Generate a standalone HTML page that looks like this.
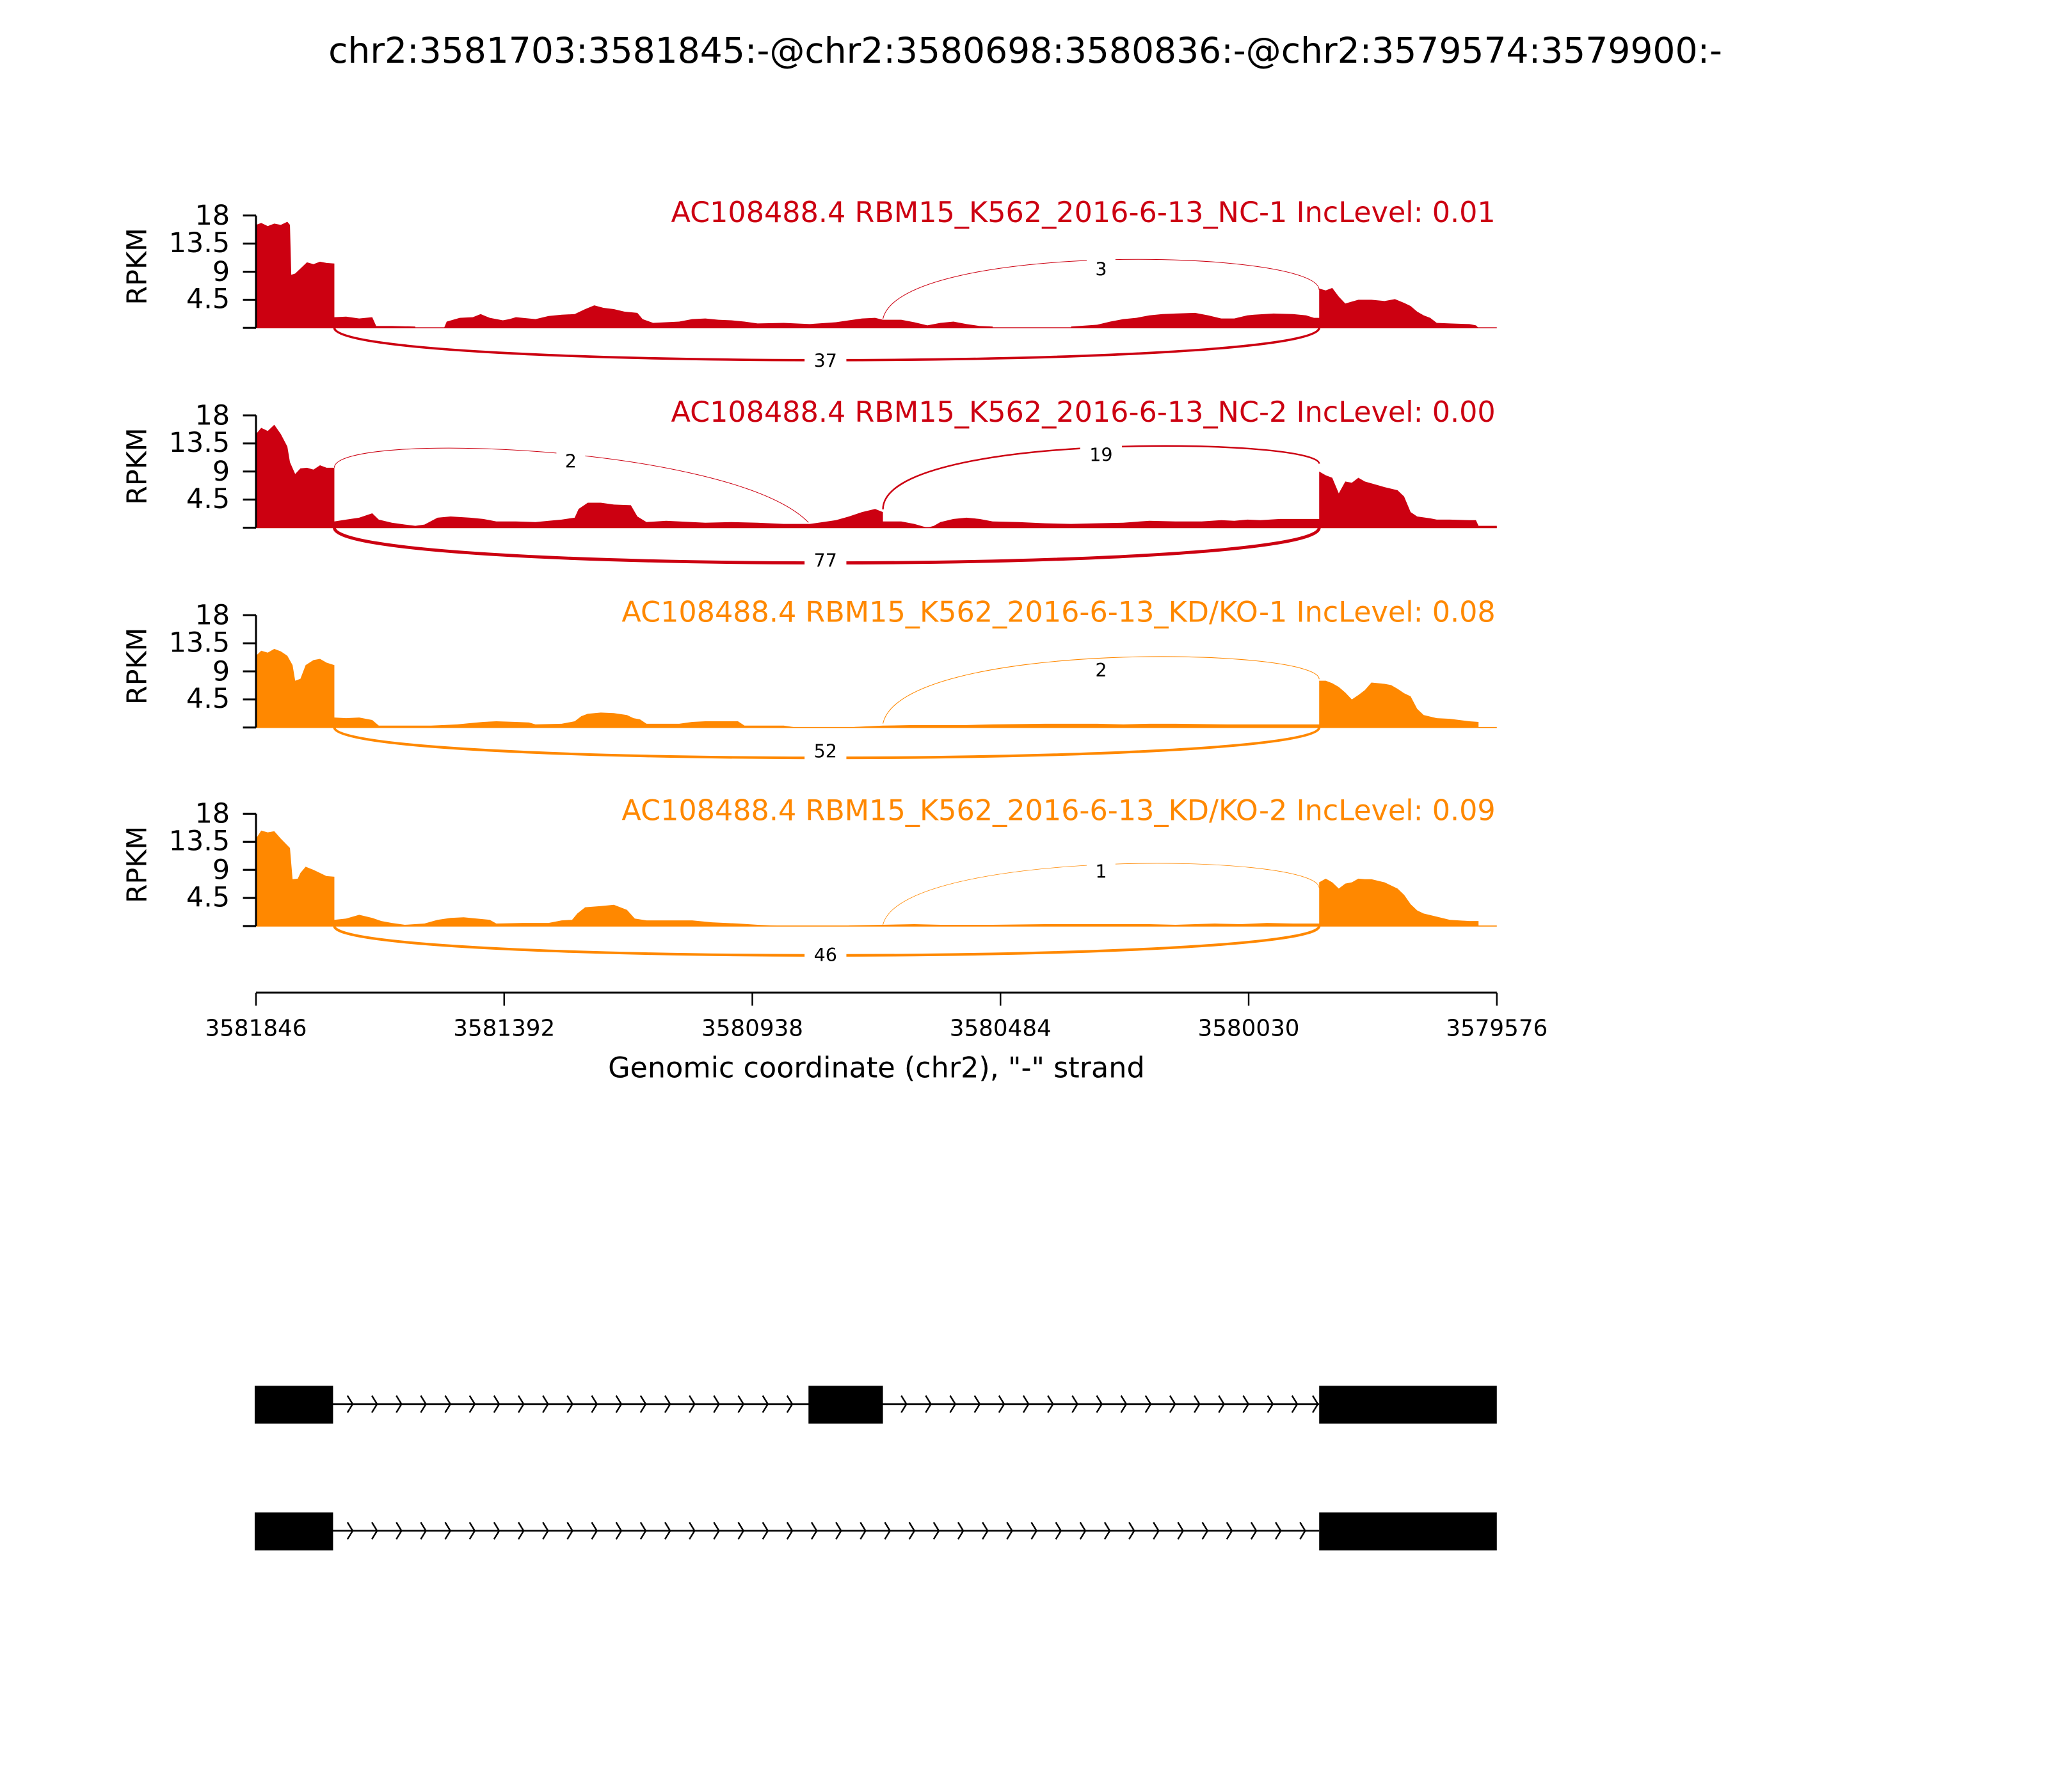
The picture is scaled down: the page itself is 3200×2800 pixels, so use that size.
<!DOCTYPE html>
<html><head><meta charset="utf-8"><style>
html,body{margin:0;padding:0;background:#fff;}
svg{display:block;}
text{font-family:"DejaVu Sans","Liberation Sans",sans-serif;}
</style></head><body>
<svg width="3200" height="2800" viewBox="0 0 1568 1372" preserveAspectRatio="none" xmlns="http://www.w3.org/2000/svg">
<rect width="1568" height="1372" fill="#fff"/>
<text x="785" y="48" font-size="27" text-anchor="middle" fill="#000">chr2:3581703:3581845:-@chr2:3580698:3580836:-@chr2:3579574:3579900:-</text>

<!-- Panel 1 -->
<g>
<g transform="translate(0,251) scale(1,-4.778)">
<polygon fill="#cc0011" points="196,0 196,16.5 200,16.8 205,16.3 210,16.7 215,16.5 220,17 222,16.5 223,8.5 226,8.7 230,9.5 235,10.5 240,10.2 245,10.6 250,10.4 256,10.3 256,1.7 265,1.8 275,1.5 285,1.7 288,0.3 300,0.3 318,0.2 318,0 340,0 342,1 352,1.6 362,1.7 368,2.2 375,1.6 385,1.2 390,1.4 395,1.7 410,1.4 420,1.9 430,2.1 440,2.2 448,3 455,3.6 462,3.2 470,3.0 478,2.6 488,2.4 492,1.4 500,0.8 510,0.9 520,1.0 530,1.4 540,1.5 550,1.3 560,1.2 570,1.0 580,0.7 600,0.8 620,0.6 640,0.9 650,1.2 660,1.5 670,1.6 676,1.3 690,1.3 700,0.9 710,0.4 720,0.8 730,1.0 740,0.6 750,0.3 760,0.2 760,0 820,0 820,0.2 840,0.5 850,1.0 860,1.4 870,1.6 880,2.0 890,2.2 900,2.3 915,2.4 925,2.0 935,1.5 945,1.5 955,2.0 960,2.1 975,2.3 990,2.2 1000,2.0 1006,1.6 1010,1.6 1010,6.3 1015,6.0 1020,6.4 1025,5.0 1030,3.9 1035,4.2 1040,4.5 1050,4.5 1060,4.3 1068,4.6 1075,4.0 1080,3.5 1085,2.6 1090,2.0 1095,1.6 1100,0.8 1110,0.7 1125,0.6 1130,0.4 1132,0"/>
</g>
<line x1="196" y1="251" x2="1146" y2="251" stroke="#cc0011" stroke-width="0.8"/>
<path d="M676,244 C690,185 1010,190 1010,222" fill="none" stroke="#cc0011" stroke-width="0.5"/>
<path d="M256,251 C256,284 1010,284 1010,251" fill="none" stroke="#cc0011" stroke-width="1.8"/>
<rect x="832" y="198" width="22" height="17" fill="#fff"/><text x="843" y="211" font-size="14" text-anchor="middle">3</text>
<rect x="616" y="268" width="32" height="17" fill="#fff"/><text x="632" y="281" font-size="14" text-anchor="middle">37</text>
<text x="1145" y="170" font-size="21.8" text-anchor="end" fill="#cc0011">AC108488.4 RBM15_K562_2016-6-13_NC-1 IncLevel: 0.01</text>
<line x1="196" y1="165" x2="196" y2="251" stroke="#000" stroke-width="1.5"/>
<g stroke="#000" stroke-width="1.5"><line x1="186" y1="165" x2="196" y2="165"/><line x1="186" y1="186.5" x2="196" y2="186.5"/><line x1="186" y1="208" x2="196" y2="208"/><line x1="186" y1="229.5" x2="196" y2="229.5"/><line x1="186" y1="251" x2="196" y2="251"/></g>
<g font-size="21" text-anchor="end"><text x="176" y="172">18</text><text x="176" y="193">13.5</text><text x="176" y="215">9</text><text x="176" y="236">4.5</text></g>
<text transform="translate(112,204) rotate(-90)" font-size="21" text-anchor="middle">RPKM</text>
</g>

<!-- Panel 2 -->
<g>
<g transform="translate(0,404) scale(1,-4.778)">
<polygon fill="#cc0011" points="196,0 196,15 200,16 205,15.5 210,16.5 215,15 220,13 222,10.5 226,8.6 230,9.5 235,9.6 240,9.3 245,10 250,9.6 256,9.6 256,1 265,1.3 275,1.6 285,2.3 290,1.3 300,0.8 310,0.5 318,0.3 325,0.5 335,1.6 345,1.8 360,1.6 370,1.4 380,1.0 395,1.0 410,0.9 420,1.1 430,1.3 440,1.6 443,3 450,4.0 460,4.0 470,3.7 483,3.6 488,1.8 495,0.9 510,1.1 520,1.0 540,0.8 560,0.9 580,0.8 600,0.6 620,0.6 630,0.9 640,1.2 650,1.8 660,2.5 670,3.0 676,2.5 676,1.0 690,1.0 700,0.6 710,0 715,0.3 720,0.9 730,1.4 740,1.6 750,1.4 760,1.0 780,0.9 800,0.7 820,0.6 840,0.7 860,0.8 880,1.1 900,1.0 920,1.0 935,1.2 945,1.1 955,1.3 965,1.2 980,1.4 1000,1.4 1010,1.4 1010,9.0 1015,8.4 1020,8.0 1025,5.5 1030,7.4 1035,7.2 1040,8.0 1045,7.4 1050,7.1 1060,6.5 1070,6.0 1075,5.0 1080,2.5 1085,1.8 1095,1.5 1100,1.3 1110,1.3 1125,1.2 1130,1.2 1132,0.3 1146,0.3 1146,0"/>
</g>
<line x1="196" y1="404" x2="1146" y2="404" stroke="#cc0011" stroke-width="0.8"/>
<path d="M256,358 C256,330 560,340 619,400" fill="none" stroke="#cc0011" stroke-width="0.5"/>
<path d="M676,390 C676,330 1010,335 1010,355" fill="none" stroke="#cc0011" stroke-width="1.2"/>
<path d="M256,404 C256,440 1010,440 1010,404" fill="none" stroke="#cc0011" stroke-width="2.4"/>
<rect x="426" y="345" width="22" height="17" fill="#fff"/><text x="437" y="358" font-size="14" text-anchor="middle">2</text>
<rect x="827" y="340" width="32" height="17" fill="#fff"/><text x="843" y="353" font-size="14" text-anchor="middle">19</text>
<rect x="616" y="421" width="32" height="17" fill="#fff"/><text x="632" y="434" font-size="14" text-anchor="middle">77</text>
<text x="1145" y="323" font-size="21.8" text-anchor="end" fill="#cc0011">AC108488.4 RBM15_K562_2016-6-13_NC-2 IncLevel: 0.00</text>
<line x1="196" y1="318" x2="196" y2="404" stroke="#000" stroke-width="1.5"/>
<g stroke="#000" stroke-width="1.5"><line x1="186" y1="318" x2="196" y2="318"/><line x1="186" y1="339.5" x2="196" y2="339.5"/><line x1="186" y1="361" x2="196" y2="361"/><line x1="186" y1="382.5" x2="196" y2="382.5"/><line x1="186" y1="404" x2="196" y2="404"/></g>
<g font-size="21" text-anchor="end"><text x="176" y="325">18</text><text x="176" y="346">13.5</text><text x="176" y="368">9</text><text x="176" y="389">4.5</text></g>
<text transform="translate(112,357) rotate(-90)" font-size="21" text-anchor="middle">RPKM</text>
</g>

<!-- Panel 3 -->
<g>
<g transform="translate(0,557) scale(1,-4.778)">
<polygon fill="#ff8800" points="196,0 196,11.5 200,12.3 205,12.0 210,12.6 215,12.2 220,11.5 224,10 226,7.5 230,7.8 234,10 240,10.8 245,11.0 250,10.4 256,10.0 256,1.6 265,1.5 275,1.6 285,1.2 290,0.3 300,0.3 330,0.3 340,0.4 350,0.5 360,0.7 370,0.9 380,1.0 395,0.9 405,0.8 410,0.5 430,0.6 440,1.0 445,1.8 450,2.2 460,2.4 470,2.3 480,2.0 485,1.5 490,1.3 495,0.6 520,0.6 530,0.9 540,1.0 565,1.0 570,0.3 600,0.3 610,0 650,0 655,0.1 676,0.3 700,0.4 720,0.4 740,0.4 760,0.5 800,0.6 840,0.6 860,0.5 880,0.6 900,0.6 940,0.5 960,0.5 990,0.5 1010,0.5 1010,7.5 1015,7.5 1020,7.1 1025,6.5 1030,5.6 1035,4.5 1040,5.2 1045,6.0 1050,7.2 1060,7.0 1065,6.8 1070,6.2 1075,5.5 1080,5.0 1085,3.0 1090,2.0 1100,1.5 1110,1.4 1125,1.0 1132,0.9 1132,0"/>
</g>
<line x1="196" y1="557" x2="1146" y2="557" stroke="#ff8800" stroke-width="0.8"/>
<path d="M676,554 C690,490 1010,495 1010,520" fill="none" stroke="#ff8800" stroke-width="0.5"/>
<path d="M256,557 C256,588 1010,588 1010,557" fill="none" stroke="#ff8800" stroke-width="2"/>
<rect x="832" y="505" width="22" height="17" fill="#fff"/><text x="843" y="518" font-size="14" text-anchor="middle">2</text>
<rect x="616" y="567" width="32" height="17" fill="#fff"/><text x="632" y="580" font-size="14" text-anchor="middle">52</text>
<text x="1145" y="476" font-size="21.8" text-anchor="end" fill="#ff8800">AC108488.4 RBM15_K562_2016-6-13_KD/KO-1 IncLevel: 0.08</text>
<line x1="196" y1="471" x2="196" y2="557" stroke="#000" stroke-width="1.5"/>
<g stroke="#000" stroke-width="1.5"><line x1="186" y1="471" x2="196" y2="471"/><line x1="186" y1="492.5" x2="196" y2="492.5"/><line x1="186" y1="514" x2="196" y2="514"/><line x1="186" y1="535.5" x2="196" y2="535.5"/><line x1="186" y1="557" x2="196" y2="557"/></g>
<g font-size="21" text-anchor="end"><text x="176" y="478">18</text><text x="176" y="499">13.5</text><text x="176" y="521">9</text><text x="176" y="542">4.5</text></g>
<text transform="translate(112,510) rotate(-90)" font-size="21" text-anchor="middle">RPKM</text>
</g>

<!-- Panel 4 -->
<g>
<g transform="translate(0,709) scale(1,-4.778)">
<polygon fill="#ff8800" points="196,0 196,14 200,15.3 205,15.0 210,15.2 215,14.0 222,12.5 224,7.5 228,7.6 230,8.5 234,9.5 240,9.0 245,8.5 250,8.0 256,7.9 256,1 265,1.2 275,1.8 285,1.3 292,0.8 300,0.5 310,0.2 325,0.4 335,1.0 345,1.3 355,1.4 365,1.2 375,1.0 380,0.4 400,0.5 420,0.5 430,0.9 438,1.0 442,2.0 448,3.0 460,3.2 470,3.4 480,2.6 486,1.2 495,0.9 510,0.9 530,0.9 545,0.6 565,0.4 580,0.2 600,0 650,0 650,0.1 676,0.2 700,0.3 720,0.2 760,0.2 800,0.3 850,0.3 880,0.3 900,0.2 930,0.4 950,0.3 970,0.5 990,0.4 1010,0.4 1010,7.0 1015,7.6 1020,7.0 1025,6.0 1030,6.8 1035,7.0 1040,7.6 1045,7.5 1050,7.5 1060,7.0 1065,6.5 1070,6.0 1075,5.0 1080,3.5 1085,2.5 1090,2.0 1100,1.5 1110,1.0 1125,0.8 1132,0.8 1132,0"/>
</g>
<line x1="196" y1="709" x2="1146" y2="709" stroke="#ff8800" stroke-width="0.8"/>
<path d="M676,708 C690,650 1010,652 1010,680" fill="none" stroke="#ff8800" stroke-width="0.4"/>
<path d="M256,709 C256,739 1010,739 1010,709" fill="none" stroke="#ff8800" stroke-width="2"/>
<rect x="832" y="659" width="22" height="17" fill="#fff"/><text x="843" y="672" font-size="14" text-anchor="middle">1</text>
<rect x="616" y="723" width="32" height="17" fill="#fff"/><text x="632" y="736" font-size="14" text-anchor="middle">46</text>
<text x="1145" y="628" font-size="21.8" text-anchor="end" fill="#ff8800">AC108488.4 RBM15_K562_2016-6-13_KD/KO-2 IncLevel: 0.09</text>
<line x1="196" y1="623" x2="196" y2="709" stroke="#000" stroke-width="1.5"/>
<g stroke="#000" stroke-width="1.5"><line x1="186" y1="623" x2="196" y2="623"/><line x1="186" y1="644.5" x2="196" y2="644.5"/><line x1="186" y1="666" x2="196" y2="666"/><line x1="186" y1="687.5" x2="196" y2="687.5"/><line x1="186" y1="709" x2="196" y2="709"/></g>
<g font-size="21" text-anchor="end"><text x="176" y="630">18</text><text x="176" y="651">13.5</text><text x="176" y="673">9</text><text x="176" y="694">4.5</text></g>
<text transform="translate(112,662) rotate(-90)" font-size="21" text-anchor="middle">RPKM</text>
</g>

<!-- x axis -->
<line x1="196" y1="760" x2="1146" y2="760" stroke="#000" stroke-width="1.5"/>
<g stroke="#000" stroke-width="1.2"><line x1="196" y1="760" x2="196" y2="770"/><line x1="386" y1="760" x2="386" y2="770"/><line x1="576" y1="760" x2="576" y2="770"/><line x1="766" y1="760" x2="766" y2="770"/><line x1="956" y1="760" x2="956" y2="770"/><line x1="1146" y1="760" x2="1146" y2="770"/></g>
<g font-size="17.5" text-anchor="middle"><text x="196" y="793">3581846</text><text x="386" y="793">3581392</text><text x="576" y="793">3580938</text><text x="766" y="793">3580484</text><text x="956" y="793">3580030</text><text x="1146" y="793">3579576</text></g>
<text x="671" y="825" font-size="21.8" text-anchor="middle">Genomic coordinate (chr2), "-" strand</text>

<!-- gene models -->
<g>
<line x1="254" y1="1075" x2="1010" y2="1075" stroke="#000" stroke-width="1.3"/>
<rect x="195" y="1061" width="60" height="29" fill="#000"/>
<rect x="619" y="1061" width="57" height="29" fill="#000"/>
<rect x="1010" y="1061" width="136" height="29" fill="#000"/>
<path fill="none" stroke="#000" stroke-width="1.2" d="M266,1068.5 l4,6.5 l-4,6.5 M284.7,1068.5 l4,6.5 l-4,6.5 M303.4,1068.5 l4,6.5 l-4,6.5 M322.1,1068.5 l4,6.5 l-4,6.5 M340.8,1068.5 l4,6.5 l-4,6.5 M359.5,1068.5 l4,6.5 l-4,6.5 M378.2,1068.5 l4,6.5 l-4,6.5 M396.9,1068.5 l4,6.5 l-4,6.5 M415.6,1068.5 l4,6.5 l-4,6.5 M434.3,1068.5 l4,6.5 l-4,6.5 M453,1068.5 l4,6.5 l-4,6.5 M471.7,1068.5 l4,6.5 l-4,6.5 M490.4,1068.5 l4,6.5 l-4,6.5 M509.1,1068.5 l4,6.5 l-4,6.5 M527.8,1068.5 l4,6.5 l-4,6.5 M546.5,1068.5 l4,6.5 l-4,6.5 M565.2,1068.5 l4,6.5 l-4,6.5 M583.9,1068.5 l4,6.5 l-4,6.5 M602.6,1068.5 l4,6.5 l-4,6.5 M690,1068.5 l4,6.5 l-4,6.5 M708.7,1068.5 l4,6.5 l-4,6.5 M727.4,1068.5 l4,6.5 l-4,6.5 M746.1,1068.5 l4,6.5 l-4,6.5 M764.8,1068.5 l4,6.5 l-4,6.5 M783.5,1068.5 l4,6.5 l-4,6.5 M802.2,1068.5 l4,6.5 l-4,6.5 M820.9,1068.5 l4,6.5 l-4,6.5 M839.6,1068.5 l4,6.5 l-4,6.5 M858.3,1068.5 l4,6.5 l-4,6.5 M877,1068.5 l4,6.5 l-4,6.5 M895.7,1068.5 l4,6.5 l-4,6.5 M914.4,1068.5 l4,6.5 l-4,6.5 M933.1,1068.5 l4,6.5 l-4,6.5 M951.8,1068.5 l4,6.5 l-4,6.5 M970.5,1068.5 l4,6.5 l-4,6.5 M989.2,1068.5 l4,6.5 l-4,6.5 M1005,1068.5 l4,6.5 l-4,6.5"/>
</g>
<g transform="translate(0,97)">
<line x1="254" y1="1075" x2="1010" y2="1075" stroke="#000" stroke-width="1.3"/>
<rect x="195" y="1061" width="60" height="29" fill="#000"/>
<rect x="1010" y="1061" width="136" height="29" fill="#000"/>
<path fill="none" stroke="#000" stroke-width="1.2" d="M266,1068.5 l4,6.5 l-4,6.5 M284.7,1068.5 l4,6.5 l-4,6.5 M303.4,1068.5 l4,6.5 l-4,6.5 M322.1,1068.5 l4,6.5 l-4,6.5 M340.8,1068.5 l4,6.5 l-4,6.5 M359.5,1068.5 l4,6.5 l-4,6.5 M378.2,1068.5 l4,6.5 l-4,6.5 M396.9,1068.5 l4,6.5 l-4,6.5 M415.6,1068.5 l4,6.5 l-4,6.5 M434.3,1068.5 l4,6.5 l-4,6.5 M453,1068.5 l4,6.5 l-4,6.5 M471.7,1068.5 l4,6.5 l-4,6.5 M490.4,1068.5 l4,6.5 l-4,6.5 M509.1,1068.5 l4,6.5 l-4,6.5 M527.8,1068.5 l4,6.5 l-4,6.5 M546.5,1068.5 l4,6.5 l-4,6.5 M565.2,1068.5 l4,6.5 l-4,6.5 M583.9,1068.5 l4,6.5 l-4,6.5 M602.6,1068.5 l4,6.5 l-4,6.5 M621.3,1068.5 l4,6.5 l-4,6.5 M640,1068.5 l4,6.5 l-4,6.5 M658.7,1068.5 l4,6.5 l-4,6.5 M677.4,1068.5 l4,6.5 l-4,6.5 M696.1,1068.5 l4,6.5 l-4,6.5 M714.8,1068.5 l4,6.5 l-4,6.5 M733.5,1068.5 l4,6.5 l-4,6.5 M752.2,1068.5 l4,6.5 l-4,6.5 M770.9,1068.5 l4,6.5 l-4,6.5 M789.6,1068.5 l4,6.5 l-4,6.5 M808.3,1068.5 l4,6.5 l-4,6.5 M827,1068.5 l4,6.5 l-4,6.5 M845.7,1068.5 l4,6.5 l-4,6.5 M864.4,1068.5 l4,6.5 l-4,6.5 M883.1,1068.5 l4,6.5 l-4,6.5 M901.8,1068.5 l4,6.5 l-4,6.5 M920.5,1068.5 l4,6.5 l-4,6.5 M939.2,1068.5 l4,6.5 l-4,6.5 M957.9,1068.5 l4,6.5 l-4,6.5 M976.6,1068.5 l4,6.5 l-4,6.5 M995.3,1068.5 l4,6.5 l-4,6.5"/>
</g>
</svg>
</body></html>
